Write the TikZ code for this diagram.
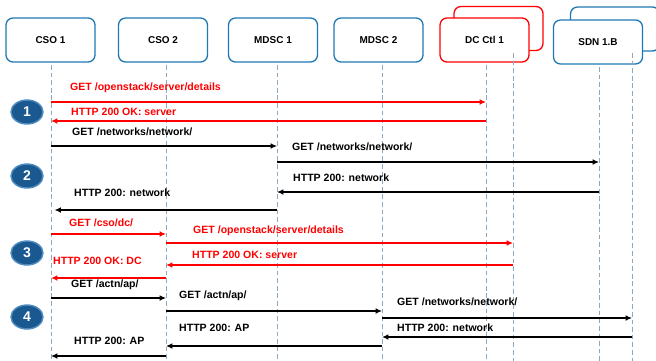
\documentclass[tikz,border=0pt]{standalone}
\usepackage{fontspec}
\setmainfont{Liberation Sans}
\usetikzlibrary{arrows.meta,positioning,shapes.geometric}
\definecolor{boxblue}{HTML}{1F78B4}
\definecolor{lifegrey}{HTML}{8FA8BC}
\definecolor{stepblue}{HTML}{1A5890}
\definecolor{stepedge}{HTML}{4E8CC2}
\definecolor{msgred}{HTML}{FF0000}

\begin{document}
\begin{tikzpicture}[x=0.03cm,y=-0.03cm,>={Latex[length=5.5pt,width=5pt]},
  actor/.style={draw=boxblue,line width=1.1pt,rounded corners=6pt,fill=white,
    minimum width=2.67cm,minimum height=1.32cm,font=\bfseries\fontsize{8.5}{10}\selectfont},
  life/.style={draw=lifegrey,dashed,line width=0.8pt,dash pattern=on 4pt off 2.5pt},
  req/.style={->,line width=1.5pt},
  redmsg/.style={->,line width=1.5pt,draw=msgred,color=msgred},
  lbl/.style={anchor=west,inner sep=0pt,font=\bfseries\fontsize{9}{11}\selectfont},
  redlbl/.style={lbl,text=msgred},
  stepnum/.style={ellipse,draw=stepedge,line width=1.2pt,fill=stepblue,text=white,
    minimum width=0.96cm,minimum height=0.72cm,inner sep=0pt,font=\bfseries\fontsize{12}{14}\selectfont}]
\useasboundingbox (0,0) rectangle (656,360);
\clip (0,0) rectangle (656,360);

% actors
\node[actor,draw=msgred] (dcback) at (498.5,28.5) {};
\node[actor] (sdnback) at (615,29) {};
\node[actor] (cso1) at (50.5,40) {CSO 1};
\node[actor] (cso2) at (163,40) {CSO 2};
\node[actor] (mdsc1) at (273,40) {MDSC 1};
\node[actor] (mdsc2) at (378.5,40) {MDSC 2};
\node[actor,draw=msgred] (dc1) at (484.5,40) {DC Ctl 1};
\node[actor] (sdn1) at (598,42) {SDN 1.B};

% lifelines
\coordinate (bottom) at (0,362);
\coordinate (l1) at (51,65);
\coordinate (l2) at (166,65);
\coordinate (l3) at (277,65);
\coordinate (l4) at (382,65);
\coordinate (l5) at (486,65);
\coordinate (l6) at (513,53);
\coordinate (l7) at (599,67);
\coordinate (l8) at (632,53);
\foreach \l in {l1,l2,l3,l4,l5,l6,l7,l8}
  \draw[life] (\l) -- (\l |- bottom);

% step markers
\node[stepnum] (s1) at (27,112) {1};
\node[stepnum] (s2) at (27,176) {2};
\node[stepnum] (s3) at (27,253) {3};
\node[stepnum] (s4) at (27,317) {4};

% step 1
\draw[redmsg] (l1 |- 0,102) -- (l5 |- 0,102);
\node[redlbl] (t1) at (70,88) {GET /openstack/server/details};
\draw[redmsg] (l5 |- 0,121) -- (l1 |- 0,121);
\node[redlbl] (t2) at (71,112) {HTTP 200 OK: server};

% step 2
\draw[req] (l1 |- 0,146) -- (l3 |- 0,146);
\node[lbl] (t3) at (72,132) {GET /networks/network/};
\draw[req] (l3 |- 0,162) -- (l7 |- 0,162);
\node[lbl] (t4) at (292,147) {GET /networks/network/};
\draw[req] (l7 |- 0,192) -- (l3 |- 0,192);
\node[lbl] (t5) at (293,178) {HTTP 200: network};
\draw[req] (l3 |- 0,210) -- ([xshift=3pt]l1 |- 0,210);
\node[lbl] (t6) at (74,193) {HTTP 200: network};

% step 3
\draw[redmsg] (l1 |- 0,234) -- (l2 |- 0,234);
\node[redlbl] (t7) at (69,223) {GET /cso/dc/};
\draw[redmsg] (l2 |- 0,243) -- (l6 |- 0,243);
\node[redlbl] (t8) at (193,231) {GET /openstack/server/details};
\draw[redmsg] (l6 |- 0,265) -- (l2 |- 0,265);
\node[redlbl] (t9) at (192,255) {HTTP 200 OK: server};
\draw[redmsg] (l2 |- 0,278) -- (l1 |- 0,278);
\node[redlbl] (t10) at (53,261) {HTTP 200 OK: DC};

% step 4
\draw[req] (l1 |- 0,298) -- (l2 |- 0,298);
\node[lbl] (t11) at (71,285) {GET /actn/ap/};
\draw[req] (l2 |- 0,311) -- (l4 |- 0,311);
\node[lbl] (t12) at (179,296) {GET /actn/ap/};
\draw[req] (l4 |- 0,318) -- (l8 |- 0,318);
\node[lbl] (t13) at (397,302) {GET /networks/network/};
\draw[req] (l8 |- 0,337) -- (l4 |- 0,337);
\node[lbl] (t14) at (397,328) {HTTP 200: network};
\draw[req] (l4 |- 0,346) -- (l2 |- 0,346);
\node[lbl] (t15) at (179,328) {HTTP 200: AP};
\draw[req] (l2 |- 0,356) -- (l1 |- 0,356);
\node[lbl] (t16) at (74,341) {HTTP 200: AP};
\end{tikzpicture}
\end{document}
